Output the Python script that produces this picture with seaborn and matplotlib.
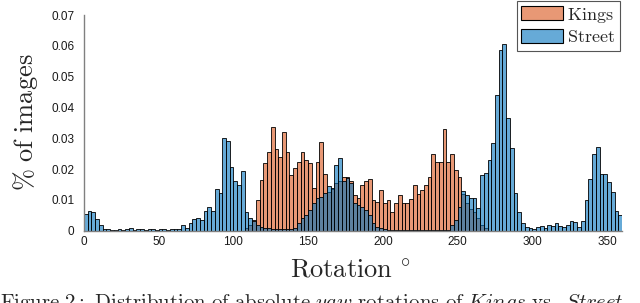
import numpy as np
import pandas as pd
import matplotlib.pyplot as plt
import seaborn as sns

# share of images per 2.5 degree yaw bin
bin_width = 2.5

# Street: bins from 0 to 360
street_pct = [
    0.0054, 0.0063, 0.0060, 0.0038, 0.0020, 0.0006, 0.0004, 0.0003, 0.0003, 0.0005,
    0.0003, 0.0006, 0.0010, 0.0003, 0.0004, 0.0004, 0.0003, 0.0004, 0.0004, 0.0003,
    0.0004, 0.0004, 0.0003, 0.0004, 0.0004, 0.0004, 0.0018, 0.0010, 0.0026, 0.0038,
    0.0040, 0.0035, 0.0063, 0.0078, 0.0063, 0.0135, 0.0123, 0.0300, 0.0290, 0.0208,
    0.0160, 0.0148, 0.0194, 0.0060, 0.0040, 0.0030, 0.0018, 0.0013, 0.0010, 0.0008,
    0.0005, 0.0005, 0.0005, 0.0005, 0.0005, 0.0005, 0.0010, 0.0024, 0.0040, 0.0050,
    0.0067, 0.0090, 0.0105, 0.0110, 0.0123, 0.0145, 0.0140, 0.0213, 0.0237, 0.0160,
    0.0172, 0.0155, 0.0089, 0.0083, 0.0078, 0.0067, 0.0050, 0.0024, 0.0013, 0.0008,
    0.0004, 0.0003, 0.0002, 0.0002, 0.0002, 0.0002, 0.0002, 0.0002, 0.0002, 0.0002,
    0.0002, 0.0002, 0.0002, 0.0002, 0.0002, 0.0002, 0.0002, 0.0003, 0.0018, 0.0035,
    0.0078, 0.0130, 0.0115, 0.0105, 0.0105, 0.0075, 0.0180, 0.0188, 0.0230, 0.0286,
    0.0440, 0.0587, 0.0606, 0.0365, 0.0267, 0.0123, 0.0060, 0.0024, 0.0011, 0.0008,
    0.0005, 0.0011, 0.0015, 0.0008, 0.0018, 0.0015, 0.0026, 0.0015, 0.0011, 0.0018,
    0.0032, 0.0029, 0.0013, 0.0032, 0.0100, 0.0167, 0.0250, 0.0273, 0.0184, 0.0184,
    0.0159, 0.0127, 0.0064, 0.0051,
]

# Kings: only covers 107.5 .. 270 degrees
kings_start = 107.5
kings_pct = [
    0.0010, 0.0018, 0.0035, 0.0100, 0.0165, 0.0220, 0.0257,
    0.0338, 0.0264, 0.0240, 0.0320, 0.0255, 0.0180, 0.0205, 0.0224, 0.0255, 0.0230,
    0.0220, 0.0140, 0.0224, 0.0287, 0.0185, 0.0125, 0.0135, 0.0155, 0.0160, 0.0175,
    0.0175, 0.0160, 0.0116, 0.0105, 0.0148, 0.0160, 0.0167, 0.0100, 0.0094, 0.0132,
    0.0091, 0.0100, 0.0060, 0.0090, 0.0116, 0.0090, 0.0090, 0.0102, 0.0148, 0.0119,
    0.0132, 0.0148, 0.0175, 0.0248, 0.0224, 0.0224, 0.0330, 0.0224, 0.0248, 0.0197,
    0.0173, 0.0120, 0.0090, 0.0070, 0.0060, 0.0040, 0.0020, 0.0010,
]

x_ticks = [0, 50, 100, 150, 200, 250, 300, 350]
y_ticks = [0, 0.01, 0.02, 0.03, 0.04, 0.05, 0.06, 0.07]
y_ticklabels = ['0', '0.01', '0.02', '0.03', '0.04', '0.05', '0.06', '0.07']

# matlab default colours, face alpha 0.6
orange = (0.85, 0.325, 0.098)
blue = (0.0, 0.447, 0.741)

street_range = (0, bin_width * len(street_pct))
kings_range = (kings_start, kings_start + bin_width * len(kings_pct))

street_df = pd.DataFrame({
    'rotation': street_range[0] + bin_width * (np.arange(len(street_pct)) + 0.5),
    'share': street_pct})
kings_df = pd.DataFrame({
    'rotation': kings_range[0] + bin_width * (np.arange(len(kings_pct)) + 0.5),
    'share': kings_pct})

sns.set_style('white')
plt.rcParams['font.family'] = ['Liberation Sans', 'DejaVu Sans']
plt.rcParams['mathtext.fontset'] = 'cm'

fig = plt.figure(figsize=(6.4, 3.03), dpi=100)
ax = fig.add_axes([84 / 640, 1 - 230.7 / 303, 538 / 640, 215.7 / 303])

sns.histplot(data=kings_df, x='rotation', weights='share',
             binwidth=bin_width, binrange=kings_range,
             facecolor=(*orange, 0.6), edgecolor='black', linewidth=0.6, ax=ax)
sns.histplot(data=street_df, x='rotation', weights='share',
             binwidth=bin_width, binrange=street_range,
             facecolor=(*blue, 0.6), edgecolor='black', linewidth=0.6, ax=ax)

ax.set_xlim(0, 360)
ax.set_ylim(0, 0.07)
ax.set_xticks(x_ticks)
ax.set_yticks(y_ticks)
ax.set_yticklabels(y_ticklabels)
ax.tick_params(direction='in', length=4, width=0.8, color='#808080',
               labelsize=8.5, labelcolor='#1a1a1a')
ax.tick_params(axis='y', pad=7)
ax.tick_params(axis='x', pad=3.5)
for side in ['top', 'right']:
    ax.spines[side].set_visible(False)
for side in ['left', 'bottom']:
    ax.spines[side].set_color('#808080')
    ax.spines[side].set_linewidth(1)

ax.set_xlabel(r'$\mathrm{Rotation}\ ^{\circ}$', fontsize=19)
ax.set_ylabel(r'$\%\ \mathrm{of\ images}$', fontsize=19)
ax.xaxis.set_label_coords(0.494, -0.13)
ax.yaxis.set_label_coords(-0.082, 0.504)

handles = [plt.Rectangle((0, 0), 1, 1, facecolor=(*orange, 0.6), edgecolor='black', linewidth=0.8),
           plt.Rectangle((0, 0), 1, 1, facecolor=(*blue, 0.6), edgecolor='black', linewidth=0.8)]
leg = fig.legend(handles, [r'$\mathrm{Kings}$', r'$\mathrm{Street}$'], fontsize=13,
                 loc='upper right', bbox_to_anchor=(620 / 640, 1 - 1 / 303),
                 fancybox=False, framealpha=1, edgecolor='#555555',
                 handlelength=2.3, handleheight=0.8, handletextpad=0.25,
                 labelspacing=0.25, borderpad=0.25, borderaxespad=0)
leg.get_frame().set_linewidth(0.8)

# caption of the source figure, cut by the bottom edge as in the original
fig.text(0.0, 1 - 292 / 303,
         r'$\mathrm{Figure\ 2:\ Distribution\ of\ absolute\ }\mathit{yaw}'
         r'\mathrm{\ rotations\ of\ }\mathit{Kings}\mathrm{\ vs.\ }\mathit{Street}$',
         fontsize=15, ha='left', va='top')

fig.savefig('out.png', dpi=100)
